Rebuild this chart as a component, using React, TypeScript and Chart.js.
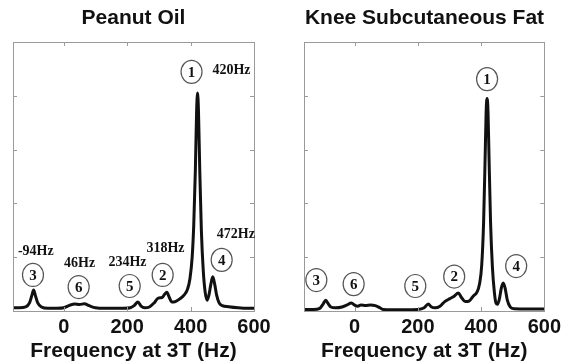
import React, { useEffect, useRef } from 'react';
import { Chart, registerables } from 'chart.js';

Chart.register(...registerables);

// ---- shared axis data ----
const X_MIN = -160;
const X_MAX = 600;
const X_TICKS = [0, 200, 400, 600];
const Y_TICKS = [0, 0.2, 0.4, 0.6, 0.8, 1];
const X_TITLE = 'Frequency at 3T (Hz)';

// ---- Peanut Oil spectrum ----
const PEANUT_TITLE = 'Peanut Oil';
const PEANUT_HZ = [
  -160, -140, -120, -108, -100, -95, -90, -82, -70, -50, -20, 0, 20, 35, 50, 65, 80, 100, 130, 160, 190,
  210, 222, 234, 244, 255, 270, 285, 298, 310, 318, 325, 333, 341, 352, 366, 380, 390, 398, 405, 410,
  415, 419, 422, 425, 429, 434, 440, 446, 452, 458, 464, 470, 476, 482, 490, 500, 520, 550, 580, 600,
];
const PEANUT_AMP = [
  0.012, 0.012, 0.015, 0.03, 0.06, 0.078, 0.06, 0.03, 0.015, 0.01, 0.01, 0.012, 0.022, 0.026, 0.024, 0.027, 0.02, 0.012, 0.01, 0.01, 0.01,
  0.012, 0.02, 0.033, 0.018, 0.012, 0.015, 0.03, 0.048, 0.05, 0.062, 0.07, 0.05, 0.033, 0.035, 0.045, 0.06, 0.08, 0.12, 0.2, 0.32,
  0.52, 0.74, 0.81, 0.74, 0.52, 0.3, 0.15, 0.07, 0.04, 0.06, 0.1, 0.127, 0.1, 0.06, 0.03, 0.02, 0.016, 0.012, 0.01, 0.01,
];
const PEANUT_IDS = ['1', '2', '3', '4', '5', '6'];
const PEANUT_CIRCLE_HZ = [403, 312, -97, 498, 208, 47];
const PEANUT_CIRCLE_AMP = [0.889, 0.134, 0.134, 0.19, 0.093, 0.089];
const PEANUT_LABELS = ['420Hz', '318Hz', '-94Hz', '472Hz', '234Hz', '46Hz'];
const PEANUT_LABEL_HZ = [529, 321, -88, 543, 201, 50];
const PEANUT_LABEL_AMP = [0.896, 0.234, 0.223, 0.283, 0.182, 0.178];

// ---- Knee Subcutaneous Fat spectrum ----
const KNEE_TITLE = 'Knee Subcutaneous Fat';
const KNEE_HZ = [
  -160, -130, -110, -100, -91, -84, -75, -60, -40, -25, -10, 0, 10, 20, 35, 50, 65, 80, 90, 120, 160,
  200, 220, 233, 242, 255, 270, 285, 300, 315, 328, 338, 350, 362, 375, 387, 395, 402, 408, 413, 416,
  419, 422, 425, 430, 436, 442, 447, 452, 458, 464, 470, 476, 483, 492, 505, 550, 600,
];
const KNEE_AMP = [
  0.006, 0.006, 0.01, 0.025, 0.04, 0.028, 0.015, 0.012, 0.015, 0.022, 0.03, 0.022, 0.018, 0.022, 0.02, 0.022, 0.02, 0.012, 0.006, 0.005, 0.005,
  0.006, 0.012, 0.026, 0.016, 0.012, 0.018, 0.035, 0.045, 0.055, 0.067, 0.05, 0.035, 0.037, 0.055, 0.07, 0.1, 0.17, 0.33, 0.58, 0.74,
  0.79, 0.74, 0.58, 0.33, 0.16, 0.07, 0.03, 0.025, 0.045, 0.085, 0.104, 0.085, 0.04, 0.015, 0.008, 0.007, 0.007,
];
const KNEE_IDS = ['1', '2', '3', '4', '5', '6'];
const KNEE_CIRCLE_HZ = [419, 315, -121, 511, 192, -3];
const KNEE_CIRCLE_AMP = [0.862, 0.128, 0.115, 0.167, 0.093, 0.1];
const KNEE_LABELS: string[] = [];
const KNEE_LABEL_HZ: number[] = [];
const KNEE_LABEL_AMP: number[] = [];

const SANS = "'Liberation Sans', Arial, sans-serif";
const SERIF = "'Liberation Serif', 'Times New Roman', serif";

type PanelProps = {
  title: string;
  hz: number[];
  amp: number[];
  ids: string[];
  circleHz: number[];
  circleAmp: number[];
  labels: string[];
  labelHz: number[];
  labelAmp: number[];
  width: number;
  padLeft: number;
  padRight: number;
  left: number;
};

function Panel(p: PanelProps) {
  const ref = useRef<HTMLCanvasElement | null>(null);
  useEffect(() => {
    if (!ref.current) return;
    const boxPlugin = {
      id: 'boxAndNotes',
      afterDatasetsDraw(chart: any) {
        const { ctx, chartArea: a, scales } = chart;
        const xs = scales.x;
        const ys = scales.y;
        ctx.save();
        ctx.strokeStyle = '#9a9a9a';
        ctx.lineWidth = 1;
        ctx.strokeRect(Math.round(a.left) + 0.5, Math.round(a.top) + 0.5, Math.round(a.right - a.left), Math.round(a.bottom - a.top));
        ctx.beginPath();
        X_TICKS.forEach((v) => {
          const px = Math.round(xs.getPixelForValue(v)) + 0.5;
          ctx.moveTo(px, a.top);
          ctx.lineTo(px, a.top + 4);
          ctx.moveTo(px, a.bottom);
          ctx.lineTo(px, a.bottom - 4);
        });
        Y_TICKS.forEach((v) => {
          const py = Math.round(ys.getPixelForValue(v)) + 0.5;
          ctx.moveTo(a.left, py);
          ctx.lineTo(a.left + 4, py);
          ctx.moveTo(a.right, py);
          ctx.lineTo(a.right - 4, py);
        });
        ctx.stroke();

        // circled peak numbers
        p.ids.forEach((id, i) => {
          const cx = xs.getPixelForValue(p.circleHz[i]);
          const cy = ys.getPixelForValue(p.circleAmp[i]);
          ctx.beginPath();
          ctx.ellipse(cx, cy, 10.5, 11.5, 0, 0, Math.PI * 2);
          ctx.fillStyle = '#ffffff';
          ctx.fill();
          ctx.strokeStyle = '#555555';
          ctx.lineWidth = 1.2;
          ctx.stroke();
          ctx.fillStyle = '#111111';
          ctx.font = `bold 15px ${SERIF}`;
          ctx.textAlign = 'center';
          ctx.textBaseline = 'middle';
          ctx.fillText(id, cx, cy + 1);
        });
        // frequency labels
        p.labels.forEach((t, i) => {
          const tx = xs.getPixelForValue(p.labelHz[i]);
          const ty = ys.getPixelForValue(p.labelAmp[i]);
          ctx.fillStyle = '#111111';
          ctx.font = `bold 14px ${SERIF}`;
          ctx.textAlign = 'center';
          ctx.textBaseline = 'middle';
          ctx.fillText(t, tx, ty);
        });
        ctx.restore();
      },
    };

    const chart = new Chart(ref.current, {
      type: 'line',
      data: {
        datasets: [
          {
            data: p.hz.map((x, i) => ({ x, y: p.amp[i] })),
            borderColor: '#111111',
            borderWidth: 3,
            pointRadius: 0,
            cubicInterpolationMode: 'monotone',
            fill: false,
          },
        ],
      },
      options: {
        responsive: false,
        animation: false,
        layout: { padding: { left: p.padLeft, right: p.padRight, top: 0, bottom: 0 } },
        plugins: {
          legend: { display: false },
          tooltip: { enabled: false },
          title: {
            display: true,
            text: p.title,
            color: '#111111',
            font: { family: SANS, size: 21, weight: 'bold', lineHeight: 1.2 },
            padding: { top: 5.4, bottom: 11.4 },
          },
        },
        scales: {
          x: {
            type: 'linear',
            min: X_MIN,
            max: X_MAX,
            afterBuildTicks: (s: any) => {
              s.ticks = X_TICKS.map((v) => ({ value: v }));
            },
            afterFit: (s: any) => {
              s.height = 53;
            },
            grid: { display: false, drawTicks: false },
            border: { display: false },
            ticks: {
              color: '#111111',
              padding: 4,
              maxRotation: 0,
              font: { family: SANS, size: 20, weight: 'bold', lineHeight: 1.2 },
            },
            title: {
              display: true,
              text: X_TITLE,
              color: '#111111',
              padding: { top: 0, bottom: 0.4 },
              font: { family: SANS, size: 21, weight: 'bold', lineHeight: 1.2 },
            },
          },
          y: {
            type: 'linear',
            min: 0,
            max: 1,
            afterBuildTicks: (s: any) => {
              s.ticks = Y_TICKS.map((v) => ({ value: v }));
            },
            afterFit: (s: any) => {
              s.width = 0;
            },
            grid: { display: false, drawTicks: false },
            border: { display: false },
            ticks: { display: false },
          },
        },
      } as any,
      plugins: [boxPlugin],
    });
    return () => chart.destroy();
  }, []);
  return (
    <canvas
      ref={ref}
      width={p.width}
      height={364}
      style={{ position: 'absolute', left: p.left, top: 0, width: p.width, height: 364 }}
    />
  );
}

export default function App() {
  return (
    <div style={{ position: 'fixed', left: 0, top: 0, width: 565, height: 364, background: '#ffffff' }}>
      <Panel
        title={PEANUT_TITLE}
        hz={PEANUT_HZ}
        amp={PEANUT_AMP}
        ids={PEANUT_IDS}
        circleHz={PEANUT_CIRCLE_HZ}
        circleAmp={PEANUT_CIRCLE_AMP}
        labels={PEANUT_LABELS}
        labelHz={PEANUT_LABEL_HZ}
        labelAmp={PEANUT_LABEL_AMP}
        width={283}
        padLeft={13}
        padRight={29}
        left={0}
      />
      <Panel
        title={KNEE_TITLE}
        hz={KNEE_HZ}
        amp={KNEE_AMP}
        ids={KNEE_IDS}
        circleHz={KNEE_CIRCLE_HZ}
        circleAmp={KNEE_CIRCLE_AMP}
        labels={KNEE_LABELS}
        labelHz={KNEE_LABEL_HZ}
        labelAmp={KNEE_LABEL_AMP}
        width={282}
        padLeft={21}
        padRight={20}
        left={283}
      />
    </div>
  );
}
